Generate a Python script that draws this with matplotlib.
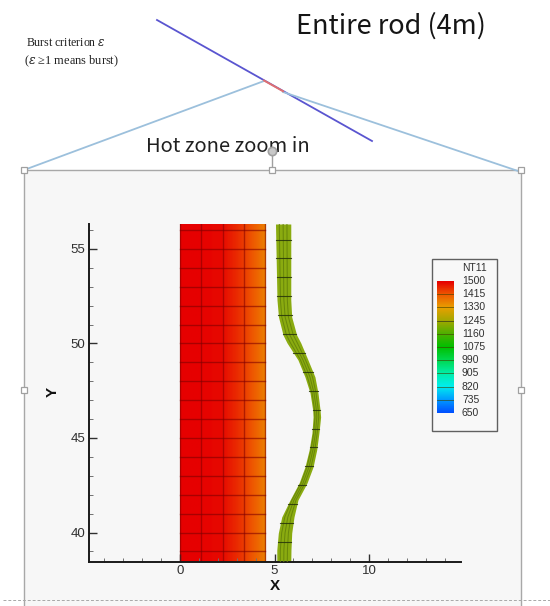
import numpy as np
import matplotlib
matplotlib.use("Agg")
import matplotlib.pyplot as plt
from matplotlib.colors import LinearSegmentedColormap
from matplotlib.patches import Rectangle

# Field data
levels = [1500, 1415, 1330, 1245, 1160, 1075, 990, 905, 820, 735, 650]
level_colors = ['#e60000', '#ee5a00', '#e8a000', '#a2a800', '#4cb000', '#00c000',
                '#00d850', '#00eea8', '#00eeee', '#009cff', '#0050ff']
fuel_x = [0, 1.1, 2.2, 2.9, 3.4, 4.0, 4.5]
fuel_t = [1500, 1497, 1490, 1462, 1440, 1405, 1365]
fuel_mesh_x = [0, 1.13, 2.27, 3.4, 4.5]
rod_y = [56.32, 52.30, 51.40, 50.45, 50.03, 49.13, 48.23, 47.38, 46.48, 46.11, 45.26,
         44.36, 43.47, 42.62, 41.72, 40.82, 39.97, 39.07, 38.44]
rod_left = [5.05, 5.13, 5.21, 5.45, 5.66, 6.24, 6.61, 6.88, 7.02, 7.04, 6.98,
            6.83, 6.61, 6.30, 5.82, 5.38, 5.20, 5.12, 5.12]
rod_right = [5.86, 5.86, 5.91, 6.17, 6.39, 6.77, 7.14, 7.30, 7.41, 7.44, 7.35,
             7.23, 7.04, 6.72, 6.24, 6.03, 5.91, 5.87, 5.86]
rod_color = '#8aab10'
x_ticks = [0, 5, 10]
y_ticks = [40, 45, 50, 55]

W, H = 550, 606
fig = plt.figure(figsize=(W / 100, H / 100), dpi=100, facecolor='white')
plt.rcParams['font.family'] = ['Liberation Sans', 'DejaVu Sans']


def box(l, t, r, b):
    return [l / W, 1 - b / H, (r - l) / W, (b - t) / H]


# Slide overlay, in pixel coordinates
bg = fig.add_axes([0, 0, 1, 1])
bg.set_xlim(0, W)
bg.set_ylim(H, 0)
bg.axis('off')
bg.add_patch(Rectangle((24, 170), 497, 440, fc='#f7f7f7', ec='#a8a8a8', lw=1.0))
bg.plot([3, 550], [600, 600], color='#a8a8a8', lw=0.7, ls=(0, (3, 2)), zorder=3)
bg.plot([157, 372], [20, 141], color='#5a55d0', lw=1.3, zorder=3)
bg.plot([264, 283], [80.5, 91.2], color='#e07070', lw=1.4, zorder=4)
bg.plot([264, 24], [81, 170], color='#9cc0dc', lw=1.3, zorder=3)
bg.plot([283, 521], [92, 172], color='#9cc0dc', lw=1.3, zorder=3)
bg.plot([272, 272], [170, 153], color='#a0a0a0', lw=1, zorder=4)
bg.plot([272], [151], 'o', ms=6, mfc='#c8c8c8', mec='#a0a0a0', mew=1.2, zorder=5)
handles_x = [24, 272, 521, 24, 521]
handles_y = [170, 170, 170, 390, 390]
bg.plot(handles_x, handles_y, 's', ms=4.5, mfc='white', mec='#a0a0a0', mew=0.9, zorder=5)
bg.text(391, 26, 'Entire rod (4m)', fontsize=19.5, ha='center', va='center',
        family=['Noto Sans CJK KR', 'DejaVu Sans'], color='#151515')
bg.text(228, 147, 'Hot zone zoom in', fontsize=14.5, ha='center', va='center',
        family=['Noto Sans CJK KR', 'DejaVu Sans'], color='#202020', zorder=2)
bg.text(26, 43, 'Burst criterion $\\varepsilon$', fontsize=8.6, ha='left', va='center',
        family='Liberation Serif', color='#202020', math_fontfamily='dejavuserif')
bg.text(24, 61, '($\\varepsilon$ ≥1 means burst)', fontsize=8.9, ha='left', va='center',
        family='Liberation Serif', color='#202020', math_fontfamily='dejavuserif')

# Main plot
cmap = LinearSegmentedColormap.from_list(
    'nt11', [((v - 650) / 850, c) for v, c in zip(levels[::-1], level_colors[::-1])])

ax = fig.add_axes(box(89, 224, 461, 562))
ax.patch.set_alpha(0)
ax.set_xlim(-4.82, 14.87)
ax.set_ylim(38.44, 56.32)

gx = np.linspace(0, 4.5, 200)
gt = np.interp(gx, fuel_x, fuel_t)
ax.imshow(gt[None, :], extent=(0, 4.5, 38.44, 56.32), aspect='auto', cmap=cmap,
          vmin=650, vmax=1500, interpolation='bilinear', zorder=1)
for xv in fuel_mesh_x:
    ax.plot([xv, xv], [38.44, 56.32], color='#800000', lw=1.0, alpha=0.55, zorder=2)
for yv in range(39, 57):
    ax.plot([0, 4.5], [yv, yv], color='#800000', lw=1.0, alpha=0.6, zorder=2)

rl, rr = np.array(rod_left), np.array(rod_right)
ry = np.array(rod_y)
ax.fill_betweenx(ry, rl, rr, color=rod_color, lw=0, zorder=2)
for f in (0.25, 0.5, 0.75):
    ax.plot(rl + f * (rr - rl), ry, color='#68860a', lw=0.7, zorder=3)
for yc in np.arange(39.5, 56, 1.0):
    a, b = np.interp(yc, ry[::-1], rl[::-1]), np.interp(yc, ry[::-1], rr[::-1])
    ax.plot([a, b], [yc, yc], color='#26340a', lw=0.8, alpha=0.85, zorder=3)

for s in ('top', 'right'):
    ax.spines[s].set_visible(False)
for s in ('left', 'bottom'):
    ax.spines[s].set_linewidth(1.4)
    ax.spines[s].set_color('#1a1a1a')
ax.set_xticks(x_ticks)
ax.set_yticks(y_ticks)
ax.set_xticks(np.arange(-4, 15), minor=True)
ax.set_yticks(np.arange(39, 57), minor=True)
ax.tick_params(which='major', direction='in', length=6, width=1, color='#303030',
               labelsize=9.5, labelcolor='#303030', pad=2.5)
ax.tick_params(which='minor', direction='in', length=3, width=0.7, color='#707070')
ax.set_xlabel('X', fontsize=11, fontweight='bold', color='#111111')
ax.set_ylabel('Y', fontsize=11, fontweight='bold', color='#111111')
ax.xaxis.set_label_coords((275 - 89) / 372, -(586 - 562) / 338, transform=ax.transAxes)
ax.yaxis.set_label_coords((53 - 89) / 372, (562 - 392) / 338, transform=ax.transAxes)
ax.xaxis.label.set_va('center')
ax.yaxis.label.set_va('center')

# Legend box
bg.add_patch(Rectangle((431.5, 258.5), 65, 172, fc='#f8f8f8', ec='#606060', lw=1, zorder=6))
lg = fig.add_axes(box(437, 281, 454, 413), zorder=5)
vals = np.linspace(1500, 650, 200)
lg.imshow(vals[:, None], extent=(0, 1, 650, 1500), aspect='auto', cmap=cmap,
          vmin=650, vmax=1500, interpolation='bilinear')
lg.set_ylim(650, 1500)
for v in levels[1:-1]:
    lg.axhline(v, color='#202020' if v == 1245 else '#404000', lw=0.6, alpha=0.7)
lg.axis('off')
fig.text(462 / W, 1 - 268 / H, 'NT11', fontsize=7.5, color='#303030', va='center', zorder=8)
for v in levels:
    py = 413 - (v - 650) / 850 * 132
    fig.text(462 / W, 1 - py / H, str(v), fontsize=7.5, color='#303030', va='center', zorder=8)

fig.savefig('out.png', dpi=100)
